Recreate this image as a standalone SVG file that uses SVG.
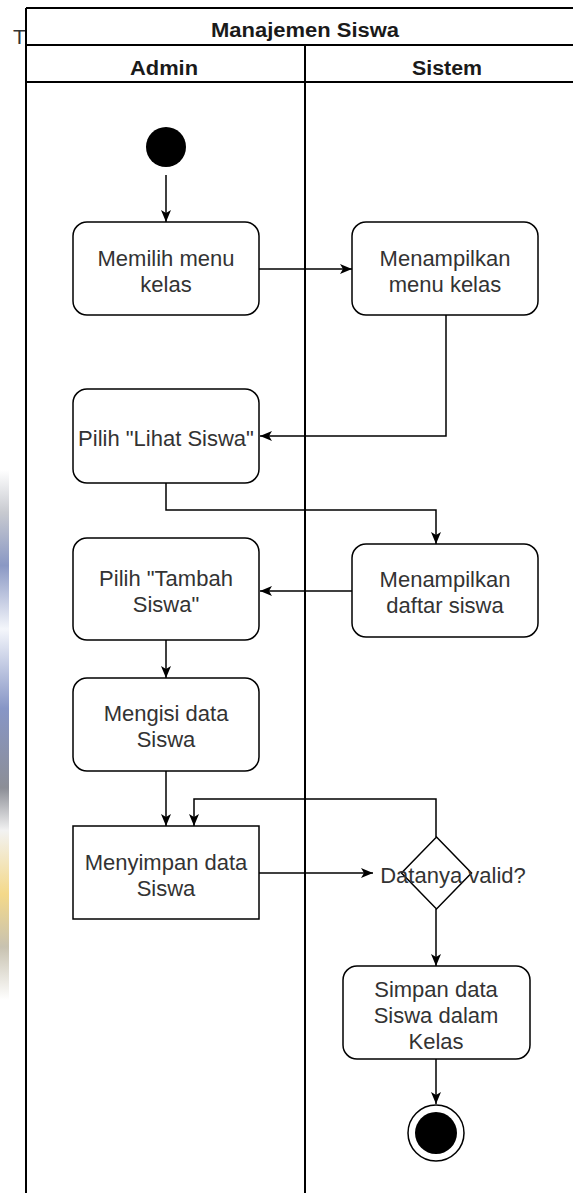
<svg xmlns="http://www.w3.org/2000/svg" width="573" height="1193" viewBox="0 0 573 1193">
<defs>
<linearGradient id="bg" x1="0" y1="0" x2="0" y2="1">
<stop offset="0" stop-color="#ffffff"/>
<stop offset="0.08" stop-color="#c8cad0"/>
<stop offset="0.18" stop-color="#8a98c4"/>
<stop offset="0.3" stop-color="#f4f6fb"/>
<stop offset="0.45" stop-color="#8796c6"/>
<stop offset="0.6" stop-color="#8c8e96"/>
<stop offset="0.68" stop-color="#f2f2f2"/>
<stop offset="0.8" stop-color="#f4d98a"/>
<stop offset="0.9" stop-color="#c8c2b0"/>
<stop offset="1" stop-color="#ffffff"/>
</linearGradient>
<marker id="arr" viewBox="0 0 12 10" refX="12" refY="5" markerWidth="12" markerHeight="10" markerUnits="userSpaceOnUse" orient="auto">
<path d="M0,0 L12,5 L0,10 L3,5 Z" fill="#000"/>
</marker>
</defs>
<style>
.lbl{font-family:"Liberation Sans",Arial,sans-serif;font-size:22px;fill:#333;text-anchor:middle}
.hdr{font-family:"Liberation Sans",Arial,sans-serif;font-size:20px;font-weight:bold;fill:#1a1a1a;text-anchor:middle}
.box{fill:#fff;stroke:#000;stroke-width:1.5}
.pool{stroke:#000;stroke-width:2;fill:none}
.edge{fill:none;stroke:#000;stroke-width:1.5}
</style>
<rect x="0" y="0" width="573" height="1193" fill="#fff"/>
<rect x="0" y="470" width="9" height="530" fill="url(#bg)"/>
<text x="13" y="44" font-family="Liberation Sans, Arial, sans-serif" font-size="21" fill="#333">T</text>
<g id="pool">
<rect x="26" y="8" width="562" height="1200" fill="#fff"/>
<line class="pool" x1="26" y1="8" x2="573" y2="8"/>
<line class="pool" x1="26" y1="8" x2="26" y2="1193"/>
<line class="pool" x1="26" y1="45" x2="573" y2="45"/>
<line class="pool" x1="26" y1="82" x2="573" y2="82"/>
<line class="pool" x1="305" y1="45" x2="305" y2="1193"/>
<text class="hdr" x="305" y="37" textLength="188" lengthAdjust="spacingAndGlyphs">Manajemen Siswa</text>
<text class="hdr" x="164" y="75" textLength="68" lengthAdjust="spacingAndGlyphs">Admin</text>
<text class="hdr" x="447" y="75" textLength="70" lengthAdjust="spacingAndGlyphs">Sistem</text>
</g>
<g id="connectors">
<path class="edge" d="M166,175 V222" marker-end="url(#arr)"/>
<path class="edge" d="M259,269 H352" marker-end="url(#arr)"/>
<path class="edge" d="M446,315 V436 H260" marker-end="url(#arr)"/>
<path class="edge" d="M166,483 V510 H436 V544" marker-end="url(#arr)"/>
<path class="edge" d="M352,591 H260" marker-end="url(#arr)"/>
<path class="edge" d="M166,640 V678" marker-end="url(#arr)"/>
<path class="edge" d="M166,771 V826" marker-end="url(#arr)"/>
<path class="edge" d="M436,837 V799 H194 V826" marker-end="url(#arr)"/>
<path class="edge" d="M259,873 H373" marker-end="url(#arr)"/>
<path class="edge" d="M436,909 V966" marker-end="url(#arr)"/>
<path class="edge" d="M436,1059 V1104" marker-end="url(#arr)"/>
</g>
<g id="start"><circle cx="166" cy="147" r="20" fill="#000"/></g>
<g id="memilih">
<rect class="box" x="73" y="222" width="186" height="93" rx="14"/>
<text class="lbl" x="166" y="266">Memilih menu</text>
<text class="lbl" x="166" y="292">kelas</text>
</g>
<g id="menampilkan-menu">
<rect class="box" x="352" y="222" width="186" height="93" rx="14"/>
<text class="lbl" x="445" y="266">Menampilkan</text>
<text class="lbl" x="445" y="292">menu kelas</text>
</g>
<g id="lihat">
<rect class="box" x="73" y="389" width="186" height="94" rx="14"/>
<text class="lbl" x="166" y="446">Pilih "Lihat Siswa"</text>
</g>
<g id="tambah">
<rect class="box" x="73" y="538" width="186" height="102" rx="14"/>
<text class="lbl" x="166" y="586">Pilih "Tambah</text>
<text class="lbl" x="166" y="612">Siswa"</text>
</g>
<g id="daftar">
<rect class="box" x="352" y="544" width="186" height="93" rx="14"/>
<text class="lbl" x="445" y="587">Menampilkan</text>
<text class="lbl" x="445" y="613">daftar siswa</text>
</g>
<g id="mengisi">
<rect class="box" x="73" y="678" width="186" height="93" rx="14"/>
<text class="lbl" x="166" y="721">Mengisi data</text>
<text class="lbl" x="166" y="747">Siswa</text>
</g>
<g id="menyimpan">
<rect class="box" x="73" y="826" width="186" height="93"/>
<text class="lbl" x="166" y="870">Menyimpan data</text>
<text class="lbl" x="166" y="896">Siswa</text>
</g>
<g id="decision">
<path class="box" d="M436.5,837 L471.5,873 L436.5,909 L401.5,873 Z" fill="none" style="fill:none"/>
<text class="lbl" x="453" y="883">Datanya valid?</text>
</g>
<g id="simpan">
<rect class="box" x="343" y="966" width="187" height="93" rx="14"/>
<text class="lbl" x="436" y="997">Simpan data</text>
<text class="lbl" x="436" y="1023">Siswa dalam</text>
<text class="lbl" x="436" y="1049">Kelas</text>
</g>
<g id="end">
<circle cx="436" cy="1133" r="28" fill="#fff" stroke="#000" stroke-width="1.5"/>
<circle cx="436" cy="1133" r="21" fill="#000"/>
</g>
</svg>
